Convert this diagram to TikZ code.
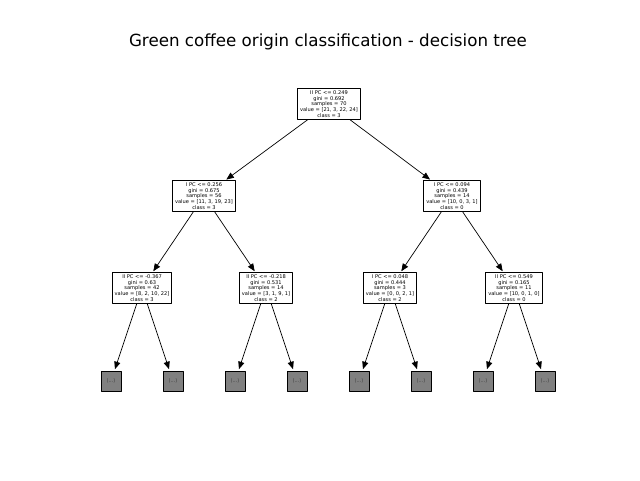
\documentclass[tikz,border=0pt]{standalone}
\usepackage{fontspec}
\setmainfont{DejaVu Sans}
\usepackage{tikz}
\usetikzlibrary{arrows}

\begin{document}
\begin{tikzpicture}[line cap=round,line join=round,>=triangle 45,x=1pt,y=-1pt,
  split/.style={draw,line width=0.9pt,fill=white,align=center,inner xsep=2.6pt,inner ysep=1.6pt,
    font=\fontsize{5.1}{5.8}\selectfont},
  cut/.style={draw,line width=0.9pt,fill=gray,minimum width=20pt,minimum height=20pt,inner sep=0pt,
    font=\fontsize{5.1}{5.8}\selectfont,text=black!75},
  edge/.style={->,line width=0.7pt,shorten >=1.5pt}]
\useasboundingbox (0,0) rectangle (640,480);
\draw (328,42) node[font=\fontsize{16.7}{20}\selectfont] {Green coffee origin classification - decision tree};
% splits
\node[split] (n0) at (329,104) {II PC <= 0.249\\gini = 0.692\\samples = 70\\value = [21, 3, 22, 24]\\class = 3};
\node[split] (n1) at (204,196) {I PC <= 0.256\\gini = 0.675\\samples = 56\\value = [11, 3, 19, 23]\\class = 3};
\node[split] (n2) at (452,196) {I PC <= 0.094\\gini = 0.439\\samples = 14\\value = [10, 0, 3, 1]\\class = 0};
\node[split] (n11) at (142,288) {II PC <= -0.367\\gini = 0.63\\samples = 42\\value = [8, 2, 10, 22]\\class = 3};
\node[split] (n12) at (266,288) {II PC <= -0.218\\gini = 0.531\\samples = 14\\value = [3, 1, 9, 1]\\class = 2};
\node[split] (n21) at (390,288) {I PC <= 0.048\\gini = 0.444\\samples = 3\\value = [0, 0, 2, 1]\\class = 2};
\node[split] (n22) at (514,288) {II PC <= 0.549\\gini = 0.165\\samples = 11\\value = [10, 0, 1, 0]\\class = 0};
% truncated leaves
\node[cut] (c1) at (111,381) {(...)};
\node[cut] (c2) at (173,381) {(...)};
\node[cut] (c3) at (235,381) {(...)};
\node[cut] (c4) at (297,381) {(...)};
\node[cut] (c5) at (359,381) {(...)};
\node[cut] (c6) at (421,381) {(...)};
\node[cut] (c7) at (483,381) {(...)};
\node[cut] (c8) at (545,381) {(...)};
% edges
\draw[edge] (n0) -- (n1);
\draw[edge] (n0) -- (n2);
\draw[edge] (n1) -- (n11);
\draw[edge] (n1) -- (n12);
\draw[edge] (n2) -- (n21);
\draw[edge] (n2) -- (n22);
\draw[edge] (n11) -- (c1);
\draw[edge] (n11) -- (c2);
\draw[edge] (n12) -- (c3);
\draw[edge] (n12) -- (c4);
\draw[edge] (n21) -- (c5);
\draw[edge] (n21) -- (c6);
\draw[edge] (n22) -- (c7);
\draw[edge] (n22) -- (c8);
\end{tikzpicture}
\end{document}
